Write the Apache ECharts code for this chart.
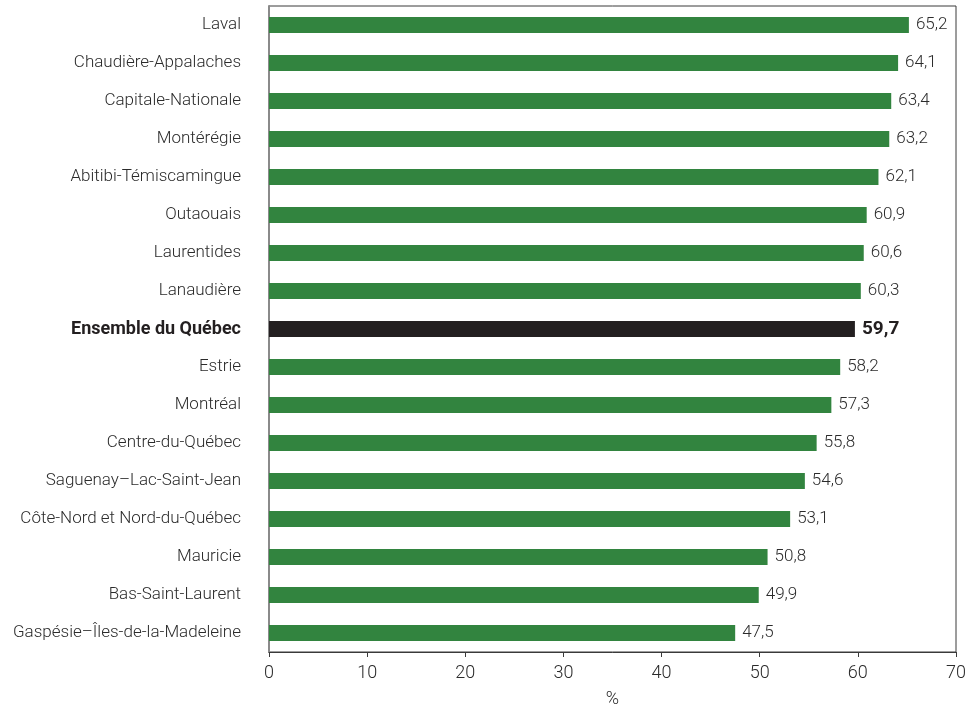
<!DOCTYPE html>
<html>
<head>
<meta charset="utf-8">
<script src="https://cdn.jsdelivr.net/npm/echarts@6/dist/echarts.min.js"></script>
<style>
  html, body { margin: 0; padding: 0; background: #fff; }
  #chart { width: 974px; height: 707px; }
</style>
</head>
<body>
<div id="chart"></div>
<script>
// Regions, listed from top to bottom
const regions = [
  'Laval',
  'Chaudière-Appalaches',
  'Capitale-Nationale',
  'Montérégie',
  'Abitibi-Témiscamingue',
  'Outaouais',
  'Laurentides',
  'Lanaudière',
  'Ensemble du Québec',
  'Estrie',
  'Montréal',
  'Centre-du-Québec',
  'Saguenay–Lac-Saint-Jean',
  'Côte-Nord et Nord-du-Québec',
  'Mauricie',
  'Bas-Saint-Laurent',
  'Gaspésie–Îles-de-la-Madeleine'
];
const values = [65.2, 64.1, 63.4, 63.2, 62.1, 60.9, 60.6, 60.3, 59.7, 58.2, 57.3, 55.8, 54.6, 53.1, 50.8, 49.9, 47.5];
const totalLabel = 'Ensemble du Québec';
const xTicks = [0, 10, 20, 30, 40, 50, 60, 70];

const FONT = "'Liberation Sans Narrow', 'Roboto', sans-serif";
const GREEN = '#32843f';
const DARK = '#231f20';
const TEXT = '#2b2b2b';

const fmt = v => v.toFixed(1).replace('.', ',');

// Category axis runs bottom-up, so reverse to keep Laval on top
const cats = regions.slice().reverse();
const vals = values.slice().reverse();

const data = vals.map((v, i) => {
  const isTotal = cats[i] === totalLabel;
  return {
    value: v,
    itemStyle: { color: isTotal ? DARK : GREEN },
    label: {
      fontWeight: isTotal ? 'bold' : 300,
      fontSize: isTotal ? 19 : 17,
      color: isTotal ? DARK : TEXT
    }
  };
});

const chart = echarts.init(document.getElementById('chart'), null, { renderer: 'canvas' });
chart.setOption({
  animation: false,
  grid: {
    left: 269, right: 18, top: 6, bottom: 55,
    outerBoundsMode: 'none',
    containLabel: false,
    show: true, borderColor: '#3a3a3a', borderWidth: 1, backgroundColor: 'transparent'
  },
  xAxis: {
    type: 'value',
    min: xTicks[0],
    max: xTicks[xTicks.length - 1],
    interval: 10,
    name: '%',
    nameLocation: 'middle',
    nameGap: 38,
    nameTextStyle: { fontFamily: FONT, fontSize: 18, fontWeight: 300, color: TEXT },
    axisLine: { show: true, lineStyle: { color: '#3a3a3a', width: 1 } },
    axisTick: { show: true, length: 5, lineStyle: { color: '#3a3a3a' } },
    axisLabel: { fontFamily: FONT, fontSize: 18, fontWeight: 300, color: TEXT, margin: 12 },
    splitLine: { show: false }
  },
  yAxis: {
    type: 'category',
    data: cats,
    axisLine: { show: true, lineStyle: { color: '#8a8a8a', width: 2 } },
    axisTick: { show: false },
    axisLabel: {
      fontFamily: FONT, fontSize: 17, fontWeight: 300, color: TEXT, margin: 28,
      formatter: v => v === totalLabel ? '{b|' + v + '}' : v,
      rich: { b: { fontFamily: FONT, fontSize: 18, fontWeight: 'bold', color: DARK } }
    }
  },
  series: [{
    type: 'bar',
    data: data,
    barWidth: 16,
    label: {
      show: true,
      position: 'right',
      distance: 7,
      fontFamily: FONT,
      formatter: p => fmt(p.value)
    }
  }]
});
</script>
</body>
</html>
